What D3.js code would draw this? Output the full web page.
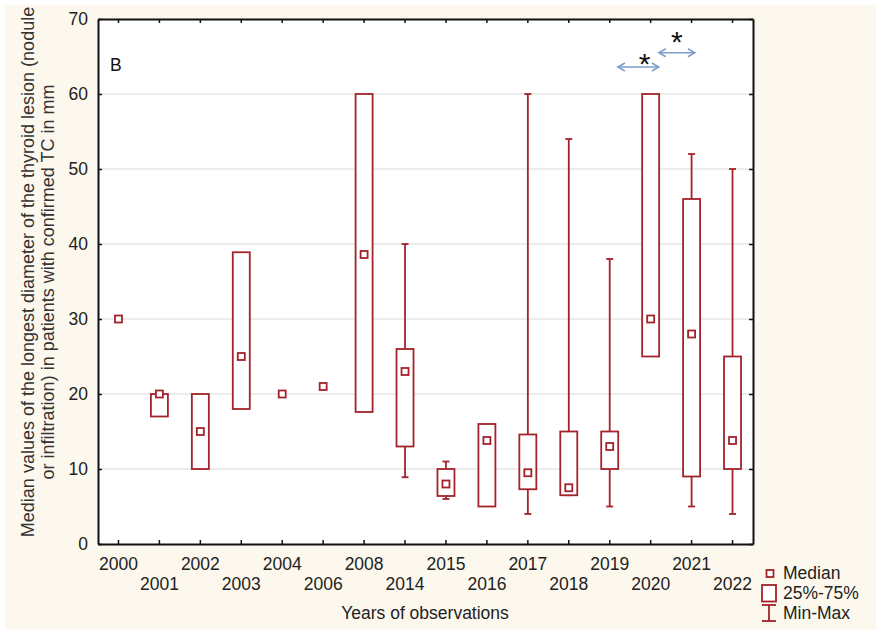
<!DOCTYPE html>
<html>
<head>
<meta charset="utf-8">
<script src="https://cdn.jsdelivr.net/npm/d3@7"></script>
<style>
  body { margin: 0; background: #fff; }
  text { font-family: "Liberation Sans", Arial, sans-serif; }
</style>
</head>
<body>
<svg id="chart" width="886" height="635"></svg>
<script>
// 年份 / box plot values (mm)
var years   = ["2000","2001","2002","2003","2004","2006","2008","2014","2015","2016","2017","2018","2019","2020","2021","2022"];
var medians = [30, 20, 15, 25, 20, 21, 38.6, 23, 8, 13.8, 9.5, 7.5, 13, 30, 28, 13.8];
var q25     = [null, 17, 10, 18, null, null, 17.6, 13, 6.4, 5, 7.3, 6.5, 10, 25, 9, 10];
var q75     = [null, 20, 20, 38.9, null, null, 60, 26, 10, 16, 14.6, 15, 15, 60, 46, 25];
var mins    = [null, null, null, null, null, null, null, 8.9, 6, null, 4, 6.5, 5, null, 5, 4];
var maxs    = [null, null, null, null, null, null, null, 40, 11, null, 60, 54, 38, null, 52, 50];
var yTicks  = [0, 10, 20, 30, 40, 50, 60, 70];
// significance marks: arrow between two years, offsets inside the band
var sigFrom  = ["2019", "2020"];
var sigTo    = ["2020", "2021"];
var sigFromOff = [0.7, 0.7];
var sigToOff   = [0.7, 0.58];
var sigLevel = [63.6, 65.5];
var starLevel = [64.8, 67.7];
var starYear = ["2020", "2021"];
var starOff  = [0.35, 0.14];

var red = "#a3232b";
var fs = 17.5;
var svg = d3.select("#chart");

svg.append("rect").attr("x", 5).attr("y", 5).attr("width", 871).attr("height", 625)
    .attr("fill", "#fcf8ee");

var x = d3.scaleBand().domain(years).range([98, 753]);
var y = d3.scaleLinear().domain([0, 70]).range([544, 19]);
var bw = x.bandwidth();
var boxW = 17, capW = 7, medS = 7;

svg.append("rect").attr("x", 98).attr("y", 19).attr("width", 655).attr("height", 525)
    .attr("fill", "#fff");

// 网格线
svg.append("g").selectAll("line")
    .data(yTicks.filter(function (d) { return d > 0 && d < 70; }))
    .enter().append("line")
    .attr("x1", 98).attr("x2", 753)
    .attr("y1", function (d) { return y(d); })
    .attr("y2", function (d) { return y(d); })
    .attr("stroke", "#d9d9d9").attr("stroke-width", 1.2);

// axes
var gL = svg.append("g").attr("transform", "translate(98,0)")
    .call(d3.axisLeft(y).tickValues(yTicks).tickSize(-4).tickSizeOuter(0).tickPadding(10));
var gR = svg.append("g").attr("transform", "translate(753,0)")
    .call(d3.axisRight(y).tickValues(yTicks).tickSize(-4).tickSizeOuter(0).tickFormat(""));
var gT = svg.append("g").attr("transform", "translate(0,19)")
    .call(d3.axisTop(x).tickSize(-4).tickSizeOuter(0).tickFormat(""));
var gB = svg.append("g").attr("transform", "translate(0,544)")
    .call(d3.axisBottom(x).tickSize(-4).tickSizeOuter(0).tickPadding(14));

[gL, gR, gT, gB].forEach(function (g) {
    g.select(".domain").attr("stroke", "#111").attr("stroke-width", 2);
    g.selectAll(".tick line").attr("stroke", "#111").attr("stroke-width", 1.5);
    g.selectAll("text").attr("font-size", fs).attr("fill", "#222")
        .attr("font-family", "'Liberation Sans', Arial, sans-serif");
});
gB.selectAll(".tick text").attr("y", function (d, i) { return i % 2 ? 34 : 14; });

// whiskers
var idx = d3.range(years.length);
var gW = svg.append("g").attr("stroke", red).attr("stroke-width", 1.8).attr("fill", "none");
idx.forEach(function (i) {
    var cx = x(years[i]) + bw / 2;
    if (maxs[i] != null) {
        gW.append("line").attr("x1", cx).attr("x2", cx).attr("y1", y(maxs[i])).attr("y2", y(q75[i]));
        gW.append("line").attr("x1", cx - capW / 2).attr("x2", cx + capW / 2).attr("y1", y(maxs[i])).attr("y2", y(maxs[i]));
    }
    if (mins[i] != null) {
        gW.append("line").attr("x1", cx).attr("x2", cx).attr("y1", y(q25[i])).attr("y2", y(mins[i]));
        gW.append("line").attr("x1", cx - capW / 2).attr("x2", cx + capW / 2).attr("y1", y(mins[i])).attr("y2", y(mins[i]));
    }
});

// boxes 25%-75%
svg.append("g").selectAll("rect")
    .data(idx.filter(function (i) { return q25[i] != null; }))
    .enter().append("rect")
    .attr("x", function (i) { return x(years[i]) + bw / 2 - boxW / 2; })
    .attr("y", function (i) { return y(q75[i]); })
    .attr("width", boxW)
    .attr("height", function (i) { return y(q25[i]) - y(q75[i]); })
    .attr("fill", "#fff").attr("stroke", red).attr("stroke-width", 1.8);

// median squares
svg.append("g").selectAll("rect")
    .data(idx)
    .enter().append("rect")
    .attr("x", function (i) { return x(years[i]) + bw / 2 - medS / 2; })
    .attr("y", function (i) { return y(medians[i]) - medS / 2; })
    .attr("width", medS).attr("height", medS)
    .attr("fill", "#fff").attr("stroke", red).attr("stroke-width", 1.8);

// significance arrows
var blue = "#7d9dcb";
var gA = svg.append("g").attr("stroke", blue).attr("stroke-width", 1.5).attr("fill", "none");
sigFrom.forEach(function (f, k) {
    var x1 = x(f) + bw * sigFromOff[k];
    var x2 = x(sigTo[k]) + bw * sigToOff[k];
    var yy = y(sigLevel[k]);
    gA.append("line").attr("x1", x1).attr("x2", x2).attr("y1", yy).attr("y2", yy);
    gA.append("path").attr("d", "M" + (x1 + 7) + "," + (yy - 4) + "L" + x1 + "," + yy + "L" + (x1 + 7) + "," + (yy + 4));
    gA.append("path").attr("d", "M" + (x2 - 7) + "," + (yy - 4) + "L" + x2 + "," + yy + "L" + (x2 - 7) + "," + (yy + 4));
});
svg.append("g").selectAll("text")
    .data(starYear)
    .enter().append("text")
    .attr("x", function (d, k) { return x(d) + bw * starOff[k]; })
    .attr("y", function (d, k) { return y(starLevel[k]) + 16; })
    .attr("text-anchor", "middle")
    .attr("font-size", 30)
    .attr("fill", "#111")
    .text("*");

// panel letter
svg.append("text").attr("x", 110).attr("y", 71).attr("font-size", fs).attr("fill", "#111").text("B");

// 轴标题
svg.append("text").attr("x", 425).attr("y", 619).attr("text-anchor", "middle")
    .attr("font-size", fs).attr("fill", "#222").text("Years of observations");
svg.append("text").attr("transform", "translate(34,272) rotate(-90)").attr("text-anchor", "middle")
    .attr("font-size", 18).attr("fill", "#333")
    .text("Median values of the longest diameter of the thyroid lesion (nodule");
svg.append("text").attr("transform", "translate(54,282) rotate(-90)").attr("text-anchor", "middle")
    .attr("font-size", 18).attr("fill", "#333")
    .text("or infiltration) in patients with confirmed TC in mm");

// legend
var lg = svg.append("g").attr("stroke", red).attr("stroke-width", 1.8).attr("fill", "#fff");
lg.append("rect").attr("x", 766.5).attr("y", 570).attr("width", 7).attr("height", 7);
lg.append("rect").attr("x", 762).attr("y", 585).attr("width", 14).attr("height", 16.5);
lg.append("line").attr("x1", 769).attr("x2", 769).attr("y1", 605).attr("y2", 621);
lg.append("line").attr("x1", 762).attr("x2", 776).attr("y1", 605).attr("y2", 605);
lg.append("line").attr("x1", 762).attr("x2", 776).attr("y1", 621).attr("y2", 621);
var legText = ["Median", "25%-75%", "Min-Max"];
var legY = [579, 599, 619];
svg.append("g").selectAll("text")
    .data(legText)
    .enter().append("text")
    .attr("x", 783)
    .attr("y", function (d, i) { return legY[i]; })
    .attr("font-size", fs).attr("fill", "#222")
    .text(function (d) { return d; });
</script>
</body>
</html>
